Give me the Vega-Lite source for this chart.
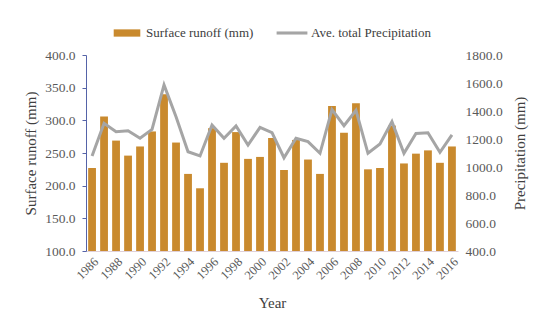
{
  "$schema": "https://vega.github.io/schema/vega-lite/v6.json",
  "autosize": "none",
  "width": 372,
  "height": 196,
  "padding": {"left": 86, "top": 55, "right": 92, "bottom": 84},
  "background": "white",
  "config": {
    "font": "Liberation Serif",
    "view": {"stroke": null},
    "axis": {"grid": false, "labelFont": "Liberation Serif", "titleFont": "Liberation Serif", "labelColor": "#595959", "titleColor": "#404040", "titleFontWeight": "normal"},
    "legend": {"labelFont": "Liberation Serif"}
  },
  "data": {
    "values": [
      {"year": 1986, "runoff": 227, "precip": 1079},
      {"year": 1987, "runoff": 306, "precip": 1312},
      {"year": 1988, "runoff": 269, "precip": 1252},
      {"year": 1989, "runoff": 246, "precip": 1259},
      {"year": 1990, "runoff": 260, "precip": 1205},
      {"year": 1991, "runoff": 283, "precip": 1269},
      {"year": 1992, "runoff": 340, "precip": 1586},
      {"year": 1993, "runoff": 266, "precip": 1359},
      {"year": 1994, "runoff": 218, "precip": 1109},
      {"year": 1995, "runoff": 196, "precip": 1079},
      {"year": 1996, "runoff": 288, "precip": 1300},
      {"year": 1997, "runoff": 235, "precip": 1205},
      {"year": 1998, "runoff": 282, "precip": 1293},
      {"year": 1999, "runoff": 241, "precip": 1157},
      {"year": 2000, "runoff": 244, "precip": 1283},
      {"year": 2001, "runoff": 273, "precip": 1245},
      {"year": 2002, "runoff": 224, "precip": 1066},
      {"year": 2003, "runoff": 270, "precip": 1205},
      {"year": 2004, "runoff": 240, "precip": 1181},
      {"year": 2005, "runoff": 218, "precip": 1098},
      {"year": 2006, "runoff": 322, "precip": 1410},
      {"year": 2007, "runoff": 281, "precip": 1295},
      {"year": 2008, "runoff": 326, "precip": 1405},
      {"year": 2009, "runoff": 225, "precip": 1098},
      {"year": 2010, "runoff": 227, "precip": 1164},
      {"year": 2011, "runoff": 292, "precip": 1324},
      {"year": 2012, "runoff": 234, "precip": 1098},
      {"year": 2013, "runoff": 249, "precip": 1240},
      {"year": 2014, "runoff": 254, "precip": 1245},
      {"year": 2015, "runoff": 235, "precip": 1105},
      {"year": 2016, "runoff": 260, "precip": 1229}
    ]
  },
  "encoding": {
    "x": {
      "field": "year", "type": "ordinal",
      "scale": {"paddingInner": 0.35, "paddingOuter": 0.18},
      "axis": {
        "title": "Year", "titleFontSize": 15, "titlePadding": 14,
        "values": [1986, 1988, 1990, 1992, 1994, 1996, 1998, 2000, 2002, 2004, 2006, 2008, 2010, 2012, 2014, 2016],
        "labelAngle": -45, "labelFontSize": 12.5, "labelPadding": 4,
        "ticks": false, "domainColor": "#e0d0d8", "domainWidth": 1
      }
    }
  },
  "layer": [
    {
      "mark": {"type": "bar", "fill": "#C98A2E"},
      "encoding": {
        "y": {
          "field": "runoff", "type": "quantitative",
          "scale": {"domain": [100, 400], "nice": false, "zero": false},
          "axis": {
            "title": "Surface runoff (mm)", "titleFontSize": 15, "titlePadding": 6,
            "values": [100, 150, 200, 250, 300, 350, 400], "format": ".1f",
            "labelFontSize": 13.5, "labelPadding": 7,
            "domainColor": "#5563a8", "tickColor": "#5563a8", "tickSize": 4
          }
        },
        "y2": {"datum": 100},
        "color": {
          "datum": "Surface runoff (mm)",
          "scale": {"domain": ["Surface runoff (mm)", "Ave. total Precipitation"], "range": ["#C98A2E", "#A5A5A5"]},
          "legend": {
            "title": null, "orient": "none", "direction": "horizontal",
            "legendX": 27, "legendY": -36,
            "labelFontSize": 13, "labelColor": "#404040", "labelOffset": 5, "labelLimit": 300,
            "columnPadding": 22,
            "symbolSize": 784,
            "symbolType": "M-1,-0.26H1V0.26H-1Z",
            "encode": {
              "symbols": {
                "update": {
                  "shape": {"signal": "datum.value === 'Ave. total Precipitation' ? 'M-1.1,-0.11H1.1V0.11H-1.1Z' : 'M-0.95,-0.26H0.95V0.26H-0.95Z'"},
                  "fill": {"signal": "datum.value === 'Ave. total Precipitation' ? '#A5A5A5' : '#B88C2C'"},
                  "stroke": {"value": "transparent"},
                  "strokeWidth": {"value": 0},
                  "opacity": {"value": 1},
                  "fillOpacity": {"value": 1}
                }
              }
            }
          }
        }
      }
    },
    {
      "mark": {"type": "line", "stroke": "#A5A5A5", "strokeWidth": 3},
      "encoding": {
        "y": {
          "field": "precip", "type": "quantitative",
          "scale": {"domain": [400, 1800], "nice": false, "zero": false},
          "axis": {
            "orient": "right",
            "title": "Precipitation (mm)", "titleFontSize": 15, "titlePadding": 10, "titleAngle": -90, "titleBaseline": "top",
            "values": [400, 600, 800, 1000, 1200, 1400, 1600, 1800], "format": ".1f",
            "labelFontSize": 13.5, "labelPadding": 7,
            "domain": false, "ticks": false
          }
        },
        "color": {"datum": "Ave. total Precipitation"}
      }
    }
  ],
  "resolve": {"scale": {"y": "independent"}}
}
